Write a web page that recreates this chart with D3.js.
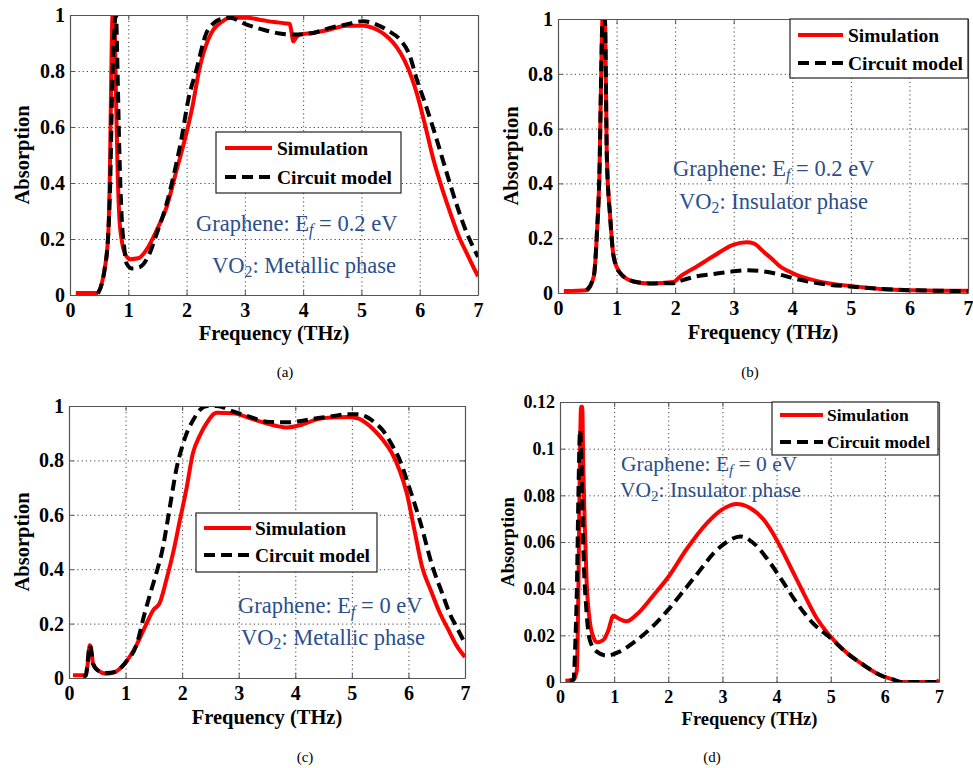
<!DOCTYPE html>
<html>
<head>
<meta charset="utf-8">
<script src="https://cdn.jsdelivr.net/npm/d3@7"></script>
<style>
body { margin: 0; background: #fff; }
svg text { font-family: "Liberation Serif", "Times New Roman", serif; white-space: pre; }
</style>
</head>
<body>
<svg id="fig" width="973" height="768"></svg>
<script>
/* ---- data ---- */
var xTicks = [0, 1, 2, 3, 4, 5, 6, 7];
var yTicksFull = [0, 0.2, 0.4, 0.6, 0.8, 1];
var yTicksSmall = [0, 0.02, 0.04, 0.06, 0.08, 0.1, 0.12];
var seriesNames = ["Simulation", "Circuit model"];

// (a) graphene Ef = 0.2 eV, VO2 metallic
var freqSimA = [0.1,0.46,0.6,0.657,0.686,0.71,0.73,0.76,0.79,0.82,0.846,0.886,0.94,1.03,1.17,1.31,1.49,1.66,1.83,1.97,2.09,2.23,2.37,2.46,2.6,2.74,3.03,3.31,3.5,3.71,3.77,3.8,3.83,3.88,3.94,4.17,4.46,4.74,5.03,5.26,5.4,5.55,5.67,5.8,5.95,6.1,6.24,6.4,6.53,6.67,6.81,6.92,7.0];
var simA = [0.007,0.007,0.10,0.22,0.46,0.82,1.0,1.0,0.7,0.42,0.28,0.197,0.15,0.128,0.131,0.161,0.233,0.316,0.447,0.555,0.662,0.817,0.912,0.948,0.975,0.99,0.99,0.981,0.975,0.970,0.968,0.94,0.906,0.92,0.93,0.936,0.948,0.962,0.962,0.948,0.93,0.90,0.864,0.81,0.72,0.60,0.48,0.37,0.29,0.21,0.148,0.10,0.067];
var freqCircA = [0.48,0.6,0.657,0.69,0.72,0.76,0.79,0.81,0.846,0.886,0.93,0.97,1.06,1.2,1.34,1.49,1.66,1.8,1.91,2.03,2.17,2.34,2.46,2.57,2.74,3.03,3.31,3.6,3.83,4.17,4.46,4.74,5.03,5.26,5.45,5.67,5.82,5.95,6.1,6.24,6.4,6.53,6.67,6.81,6.92,7.0];
var circA = [0.005,0.10,0.22,0.40,0.70,0.95,1.0,0.85,0.52,0.28,0.17,0.113,0.095,0.10,0.137,0.22,0.328,0.447,0.555,0.698,0.805,0.936,0.97,0.984,0.99,0.966,0.948,0.934,0.93,0.936,0.954,0.966,0.978,0.966,0.945,0.91,0.86,0.77,0.68,0.59,0.48,0.39,0.30,0.22,0.17,0.136];

// (b) graphene Ef = 0.2 eV, VO2 insulator
var freqSimB = [0.1,0.49,0.61,0.665,0.71,0.74,0.76,0.8,0.835,0.89,0.95,1.06,1.29,1.57,1.97,2.09,2.37,2.65,2.99,3.22,3.35,3.5,3.65,3.79,3.93,4.07,4.36,4.64,4.98,5.5,6.06,7.0];
var simB = [0.007,0.01,0.06,0.22,0.46,0.83,1.0,1.0,0.49,0.28,0.133,0.073,0.042,0.035,0.04,0.061,0.097,0.134,0.176,0.185,0.18,0.152,0.125,0.097,0.08,0.066,0.047,0.035,0.026,0.015,0.01,0.008];
var freqCircB = [0.49,0.61,0.665,0.71,0.74,0.76,0.8,0.835,0.89,0.95,1.06,1.29,1.57,1.97,2.1,2.37,2.65,2.99,3.22,3.5,3.79,4.07,4.36,4.64,4.98,5.5,6.06,7.0];
var circB = [0.01,0.06,0.22,0.46,0.83,1.0,1.0,0.49,0.28,0.133,0.073,0.042,0.035,0.036,0.045,0.061,0.069,0.079,0.083,0.079,0.067,0.051,0.039,0.03,0.024,0.015,0.01,0.007];

// (c) graphene Ef = 0 eV, VO2 metallic
var freqSimC = [0.07,0.29,0.33,0.366,0.39,0.425,0.51,0.66,0.81,1.01,1.19,1.37,1.49,1.6,1.72,1.84,1.96,2.08,2.19,2.31,2.43,2.61,2.9,3.2,3.49,3.85,4.1,4.38,4.65,4.91,5.1,5.26,5.4,5.55,5.7,5.85,5.97,6.1,6.24,6.4,6.56,6.7,6.85,7.0];
var simC = [0.01,0.01,0.05,0.12,0.11,0.053,0.028,0.016,0.022,0.06,0.12,0.2,0.25,0.274,0.36,0.46,0.58,0.70,0.826,0.89,0.936,0.975,0.973,0.955,0.936,0.921,0.93,0.951,0.958,0.96,0.955,0.936,0.91,0.875,0.83,0.76,0.68,0.55,0.41,0.32,0.237,0.18,0.12,0.077];
var freqCircC = [0.25,0.3,0.33,0.366,0.4,0.425,0.51,0.66,0.81,1.01,1.19,1.34,1.45,1.55,1.66,1.72,1.8,1.9,2.0,2.08,2.2,2.31,2.45,2.61,2.9,3.2,3.49,3.85,4.1,4.38,4.65,4.91,5.1,5.26,5.4,5.55,5.7,5.85,6.0,6.2,6.44,6.6,6.73,6.87,7.0];
var circC = [0.005,0.01,0.06,0.12,0.09,0.053,0.028,0.018,0.022,0.06,0.12,0.24,0.32,0.39,0.48,0.55,0.65,0.77,0.85,0.9,0.95,0.985,1.0,1.0,0.98,0.96,0.942,0.94,0.945,0.955,0.962,0.97,0.97,0.96,0.94,0.91,0.86,0.80,0.71,0.58,0.40,0.31,0.237,0.18,0.127];

// (d) graphene Ef = 0 eV, VO2 insulator
var freqSimD = [0.1,0.25,0.31,0.34,0.37,0.39,0.41,0.43,0.46,0.49,0.55,0.62,0.68,0.8,0.89,0.985,1.1,1.23,1.42,1.72,2.0,2.34,2.71,3.0,3.26,3.51,3.76,4.0,4.25,4.5,4.74,4.99,5.3,5.6,5.91,6.16,6.3,6.95,7.0];
var simD = [0.0005,0.001,0.005,0.04,0.1,0.118,0.118,0.092,0.065,0.044,0.026,0.019,0.017,0.018,0.022,0.0284,0.027,0.026,0.029,0.037,0.045,0.057,0.068,0.074,0.0763,0.0746,0.0696,0.061,0.0496,0.038,0.0274,0.0196,0.0124,0.0074,0.003,0.001,0,0,0.001];
var freqCircD = [0.18,0.25,0.28,0.31,0.34,0.37,0.39,0.43,0.49,0.55,0.68,0.86,1.1,1.42,1.72,2.0,2.28,2.59,2.83,3.08,3.33,3.57,3.82,4.06,4.37,4.68,4.99,5.3,5.6,5.91,6.16,6.3,7.0];
var circD = [0.0005,0.001,0.015,0.038,0.08,0.108,0.1,0.058,0.03,0.018,0.013,0.0113,0.013,0.018,0.024,0.031,0.039,0.048,0.055,0.06,0.0624,0.0596,0.053,0.045,0.034,0.025,0.019,0.0124,0.0074,0.003,0.001,0,0];

var noteBlue = "#2a4f8a";
var dash = "11,6";
var svg = d3.select("#fig");

/* panel layouts */
var panels = [
  { id: "a", l: 70, r: 478, t: 15, b: 295, ymax: 1, yTicks: yTicksFull,
    simF: freqSimA, sim: simA, circF: freqCircA, circ: circA,
    tickFont: 20, labFont: 20.5, legFont: 19.5, noteFont: 22.5, ylabX: 22, xlabY: 340, capX: 285, capY: 377,
    leg: { x0: 216, x1: 401, y0: 132, y1: 193, l0: 225, l1: 272, tx: 277, ya: 148, yb: 177 },
    notes: [
      { x: 196, y: 231, parts: ["Graphene: E", ["f", "i"], " = 0.2 eV"] },
      { x: 212, y: 273, parts: ["VO", ["2", ""], ": Metallic phase"] }
    ] },
  { id: "b", l: 558, r: 968, t: 19, b: 293, ymax: 1, yTicks: yTicksFull,
    simF: freqSimB, sim: simB, circF: freqCircB, circ: circB,
    tickFont: 20, labFont: 20.5, legFont: 19.5, noteFont: 22.5, ylabX: 511, xlabY: 339, capX: 750, capY: 377,
    leg: { x0: 790, x1: 968, y0: 19, y1: 78, l0: 798, l1: 843, tx: 848, ya: 35, yb: 63 },
    notes: [
      { x: 673, y: 176, parts: ["Graphene: E", ["f", "i"], " = 0.2 eV"] },
      { x: 679, y: 209, parts: ["VO", ["2", ""], ": Insulator phase"] }
    ] },
  { id: "c", l: 69, r: 465, t: 406, b: 678, ymax: 1, yTicks: yTicksFull,
    simF: freqSimC, sim: simC, circF: freqCircC, circ: circC,
    tickFont: 20, labFont: 20.5, legFont: 19.5, noteFont: 22.5, ylabX: 22, xlabY: 724, capX: 305, capY: 762,
    leg: { x0: 196, x1: 377, y0: 513, y1: 572, l0: 204, l1: 251, tx: 255, ya: 528, yb: 555 },
    notes: [
      { x: 238, y: 613, parts: ["Graphene: E", ["f", "i"], " = 0 eV"] },
      { x: 241, y: 645, parts: ["VO", ["2", ""], ": Metallic phase"] }
    ] },
  { id: "d", l: 560, r: 939, t: 402, b: 682, ymax: 0.12, yTicks: yTicksSmall,
    simF: freqSimD, sim: simD, circF: freqCircD, circ: circD,
    tickFont: 18, labFont: 18.5, legFont: 17.5, noteFont: 21.5, ylabX: 508, xlabY: 725, capX: 712, capY: 762,
    leg: { x0: 772, x1: 938, y0: 402, y1: 455, l0: 780, l1: 823, tx: 827, ya: 415, yb: 442 },
    notes: [
      { x: 621, y: 471, parts: ["Graphene: E", ["f", "i"], " = 0 eV"] },
      { x: 620, y: 497, parts: ["VO", ["2", ""], ": Insulator phase"] }
    ] }
];

var captions = ["(a)", "(b)", "(c)", "(d)"];

function heavy(sel, size) {
  sel.attr("font-size", size).attr("fill", "#000").attr("font-weight", "bold")
    .attr("font-family", "Liberation Serif");
}

function styleAxis(sel, size) {
  sel.attr("font-family", null);
  sel.select(".domain").attr("stroke", "#555").attr("stroke-width", 1.2);
  sel.selectAll(".tick line").attr("stroke", "#555");
  sel.selectAll(".tick text").call(heavy, size);
}

function drawPanel(p, k) {
  var w = p.r - p.l, h = p.b - p.t;
  var x = d3.scaleLinear().domain([0, 7]).range([p.l, p.r]);
  var y = d3.scaleLinear().domain([0, p.ymax]).range([p.b, p.t]);
  var g = svg.append("g");

  /* dotted grid */
  var gx = g.append("g").attr("transform", "translate(0," + p.b + ")")
    .call(d3.axisBottom(x).tickValues(xTicks.slice(1, -1)).tickSize(-h).tickFormat(""));
  var gy = g.append("g").attr("transform", "translate(" + p.l + ",0)")
    .call(d3.axisLeft(y).tickValues(p.yTicks.slice(1, -1)).tickSize(-w).tickFormat(""));
  [gx, gy].forEach(function(s) {
    s.select(".domain").remove();
    s.selectAll("line").attr("stroke", "#444").attr("stroke-width", 1).attr("stroke-dasharray", "1.2,3");
  });

  /* curves */
  svg.append("clipPath").attr("id", "clip" + p.id).append("rect")
    .attr("x", p.l).attr("y", p.t).attr("width", w).attr("height", h);
  var line = d3.line().x(function(d) { return x(d[0]); }).y(function(d) { return y(d[1]); })
    .curve(d3.curveMonotoneX);
  var plot = g.append("g").attr("clip-path", "url(#clip" + p.id + ")");
  plot.append("path").datum(d3.zip(p.simF, p.sim)).attr("d", line)
    .attr("fill", "none").attr("stroke", "#ff0000").attr("stroke-width", 4).attr("stroke-linejoin", "round");
  plot.append("path").datum(d3.zip(p.circF, p.circ)).attr("d", line)
    .attr("fill", "none").attr("stroke", "#000").attr("stroke-width", 4).attr("stroke-dasharray", dash);

  /* axes: ticks inward, box */
  var fmt = d3.format("~g");
  g.append("g").attr("transform", "translate(0," + p.b + ")")
    .call(d3.axisBottom(x).tickValues(xTicks).tickSize(-5).tickSizeOuter(0).tickPadding(8).tickFormat(fmt))
    .call(styleAxis, p.tickFont);
  g.append("g").attr("transform", "translate(" + p.l + ",0)")
    .call(d3.axisLeft(y).tickValues(p.yTicks).tickSize(-5).tickSizeOuter(0).tickPadding(5).tickFormat(fmt))
    .call(styleAxis, p.tickFont);
  g.append("g").attr("transform", "translate(0," + p.t + ")")
    .call(d3.axisTop(x).tickValues(xTicks).tickSize(-5).tickSizeOuter(0).tickFormat(""))
    .call(styleAxis, p.tickFont);
  g.append("g").attr("transform", "translate(" + p.r + ",0)")
    .call(d3.axisRight(y).tickValues(p.yTicks).tickSize(-5).tickSizeOuter(0).tickFormat(""))
    .call(styleAxis, p.tickFont);

  /* axis titles */
  g.append("text").attr("x", (p.l + p.r) / 2).attr("y", p.xlabY).attr("text-anchor", "middle")
    .call(heavy, p.labFont).text("Frequency (THz)");
  g.append("text").attr("transform", "translate(" + p.ylabX + "," + ((p.t + p.b) / 2) + ") rotate(-90)")
    .attr("text-anchor", "middle").attr("dy", "0.35em")
    .call(heavy, p.labFont).text("Absorption");

  /* legend */
  var L = p.leg;
  g.append("rect").attr("x", L.x0).attr("y", L.y0).attr("width", L.x1 - L.x0).attr("height", L.y1 - L.y0)
    .attr("fill", "#fff").attr("stroke", "#222").attr("stroke-width", 1.2);
  [[L.ya, "#ff0000", null], [L.yb, "#000", dash]].forEach(function(e, i) {
    g.append("line").attr("x1", L.l0).attr("x2", L.l1).attr("y1", e[0]).attr("y2", e[0])
      .attr("stroke", e[1]).attr("stroke-width", 4).attr("stroke-dasharray", e[2]);
    g.append("text").attr("x", L.tx).attr("y", e[0]).attr("dy", "0.35em")
      .call(heavy, p.legFont).text(seriesNames[i]);
  });

  /* annotations */
  var fs = p.noteFont;
  p.notes.forEach(function(n) {
    var t = g.append("text").attr("x", n.x).attr("y", n.y).attr("font-size", fs).attr("fill", noteBlue);
    var afterSub = false;
    n.parts.forEach(function(part) {
      if (typeof part === "string") {
        t.append("tspan").attr("dy", afterSub ? -fs * 0.18 : null).text(part);
        afterSub = false;
      } else {
        t.append("tspan").attr("dy", fs * 0.18).attr("font-size", fs * 0.7)
          .attr("font-style", part[1] === "i" ? "italic" : null).text(part[0]);
        afterSub = true;
      }
    });
  });

  /* caption */
  svg.append("text").attr("x", p.capX).attr("y", p.capY).attr("text-anchor", "middle")
    .attr("font-size", 15).text(captions[k]);
}

panels.forEach(drawPanel);
</script>
</body>
</html>
